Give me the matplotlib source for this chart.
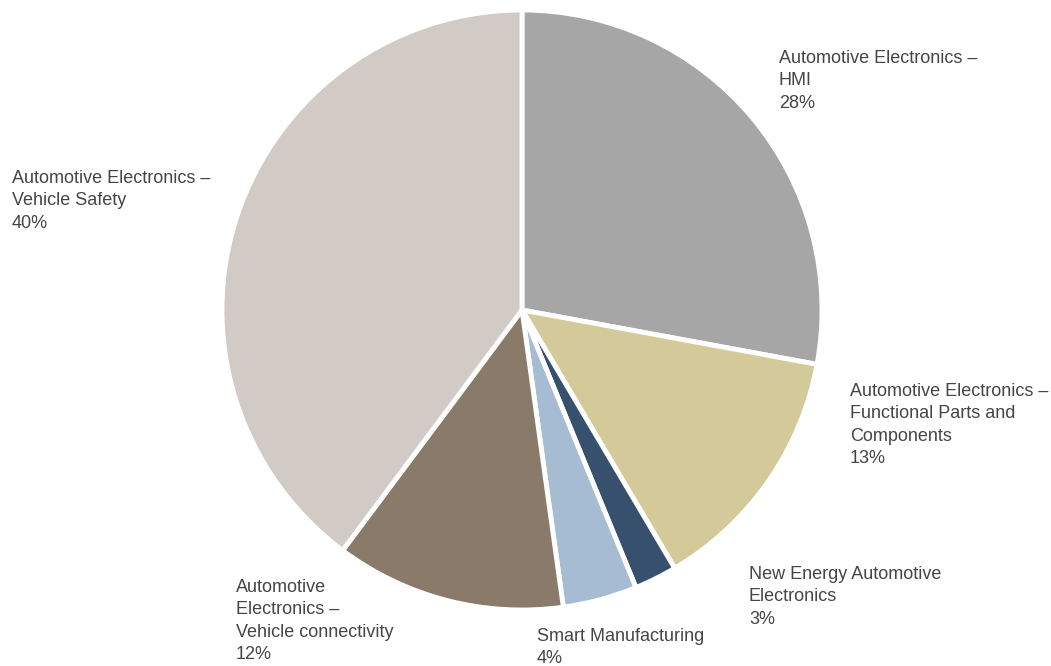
import matplotlib
matplotlib.use("Agg")
import matplotlib.pyplot as plt

categories = [
    "Automotive Electronics –\nHMI",
    "Automotive Electronics –\nFunctional Parts and\nComponents",
    "New Energy Automotive\nElectronics",
    "Smart Manufacturing",
    "Automotive\nElectronics –\nVehicle connectivity",
    "Automotive Electronics –\nVehicle Safety",
]
values = [27.9, 13.6, 2.3, 4.0, 12.4, 39.8]
pct_labels = ["28%", "13%", "3%", "4%", "12%", "40%"]
colors = ["#a6a6a6", "#d4c999", "#36506e", "#a6bcd3", "#8a7a6a", "#d2cac5"]

W, H = 1051, 666
fig = plt.figure(figsize=(W / 100, H / 100), dpi=100)
ax = fig.add_axes([0, 0, 1, 1])
ax.pie(values, colors=colors, startangle=90, counterclock=False,
       center=(522, H - 310), radius=300, frame=True,
       wedgeprops=dict(edgecolor="white", linewidth=3.5))
ax.set_xlim(0, W)
ax.set_ylim(0, H)
ax.set_aspect("equal")
ax.axis("off")

# label anchor (left x, top y in pixel coords from top)
label_pos = [(779, 50), (850, 383), (749, 566), (537, 628), (236, 579), (12, 170)]
for cat, pct, (x, y) in zip(categories, pct_labels, label_pos):
    ax.text(x, H - y, cat + "\n" + pct, ha="left", va="top",
            fontsize=13, color="#454545", family=["Liberation Sans", "DejaVu Sans"],
            linespacing=1.42)

fig.savefig("out.png", dpi=100)
